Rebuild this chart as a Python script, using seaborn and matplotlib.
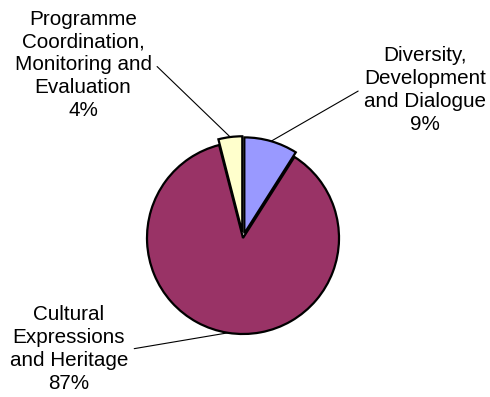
import numpy as np
import matplotlib
matplotlib.use("Agg")
import matplotlib.pyplot as plt
import seaborn as sns

# Budget shares by programme area
categories = [
    "Diversity,\nDevelopment\nand Dialogue",
    "Cultural\nExpressions\nand Heritage",
    "Programme\nCoordination,\nMonitoring and\nEvaluation",
]
shares = [9, 87, 4]
colors = ["#9999FF", "#993366", "#FFFFCC"]
explode = [0.05, 0.0, 0.06]

sns.set_theme(style="white")
plt.rcParams["font.family"] = ["Liberation Sans", "DejaVu Sans"]

W, H = 490, 397
fig = plt.figure(figsize=(W / 100, H / 100), dpi=100)
fig.patch.set_facecolor("white")

# Axes placed so the pie is centred at (243, 238) px with a 96 px radius
cx, cy, rpx, k = 243, 238, 96, 1.3
half = k * rpx
ax = fig.add_axes([(cx - half) / W, (H - cy - half) / H, 2 * half / W, 2 * half / H])

wedges, _ = ax.pie(
    shares,
    colors=colors,
    explode=explode,
    startangle=90,
    counterclock=False,
    radius=1.0,
    wedgeprops=dict(edgecolor="black", linewidth=1.6),
)
ax.set_xlim(-k, k)
ax.set_ylim(-k, k)
ax.set_aspect("equal")
ax.axis("off")

# Label blocks: (centre x px, centre y px, side the leader leaves from)
label_pos = [(425, 90, 0.0), (69, 349, 1.0), (83, 65, 1.0)]

for w, cat, share, (tx, ty, side) in zip(wedges, categories, shares, label_pos):
    mid = np.deg2rad((w.theta1 + w.theta2) / 2)
    x0, y0 = w.center
    anchor = (x0 + w.r * np.cos(mid), y0 + w.r * np.sin(mid))
    arm_angle = 0 if side == 1.0 else 180
    ax.annotate(
        f"{cat}\n{share}%",
        xy=anchor,
        xycoords="data",
        xytext=(tx / W, 1 - ty / H),
        textcoords="figure fraction",
        ha="center",
        va="center",
        multialignment="center",
        fontsize=14.9,
        color="black",
        linespacing=1.26,
        annotation_clip=False,
        arrowprops=dict(
            arrowstyle="-",
            color="black",
            lw=0.8,
            relpos=(side, 0.5),
            shrinkA=2,
            shrinkB=0,
            connectionstyle=f"arc,angleA={arm_angle},angleB=0,armA=4,armB=0,rad=0",
        ),
    )

fig.savefig("out.png", dpi=100, facecolor="white")
